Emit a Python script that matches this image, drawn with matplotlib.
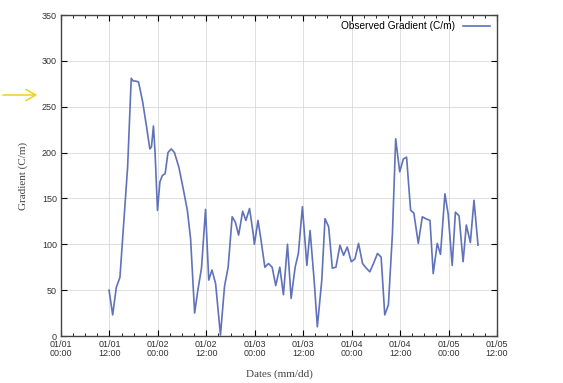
import matplotlib
matplotlib.use("Agg")
import matplotlib.pyplot as plt
from matplotlib.ticker import MultipleLocator

# hours since 01/01 00:00 and observed gradient (C/m)
hours = [
    11.9, 12.8, 13.7, 14.6, 16.5, 17.4, 17.9, 18.5, 19.2, 20.2,
    21.2, 22.0, 22.4, 22.9, 23.3, 23.9, 24.5, 25.1, 25.8, 26.5,
    27.3, 28.1, 29.2, 30.3, 31.3, 32.1, 33.1, 33.9, 34.8, 35.8,
    36.6, 37.4, 38.3, 39.5, 40.5, 41.4, 42.4, 43.2, 44.0, 45.0,
    45.8, 46.7, 47.6, 47.9, 48.8, 49.5, 50.5, 51.4, 52.3, 53.2,
    54.2, 55.1, 56.1, 57.0, 58.0, 58.8, 59.8, 60.9, 61.7, 62.7,
    63.5, 64.6, 65.4, 66.3, 67.2, 68.1, 69.1, 70.0, 70.9, 71.9,
    72.8, 73.7, 74.7, 75.6, 76.5, 77.4, 78.4, 79.3, 80.2, 81.1,
    82.1, 82.9, 83.9, 84.8, 85.6, 86.6, 87.4, 88.5, 89.5, 90.3,
    91.4, 92.2, 93.2, 94.0, 95.1, 95.9, 96.9, 97.7, 98.6, 99.6,
    100.4, 101.4, 102.3, 103.3,
]
gradient = [
    50, 23, 53, 64, 184, 281, 278, 278, 277, 256,
    228, 204, 206, 229, 200, 137, 168, 175, 177, 200,
    204, 200, 184, 160, 137, 106, 25, 50, 74, 138,
    61, 72, 57, 1, 54, 75, 130, 124, 110, 136,
    126, 139, 112, 100, 126, 106, 75, 79, 75, 55,
    75, 45, 100, 41, 75, 90, 141, 77, 115, 61,
    10, 61, 128, 119, 74, 75, 99, 88, 97, 81,
    84, 101, 79, 74, 70, 79, 90, 86, 23, 34,
    112, 215, 179, 193, 195, 137, 134, 101, 130, 128,
    126, 68, 101, 89, 155, 133, 77, 135, 131, 81,
    121, 102, 148, 99,
]

tick_hours = [0, 12, 24, 36, 48, 60, 72, 84, 96, 108]
tick_labels = [
    "01/01\n00:00", "01/01\n12:00", "01/02\n00:00", "01/02\n12:00",
    "01/03\n00:00", "01/03\n12:00", "01/04\n00:00", "01/04\n12:00",
    "01/05\n00:00", "01/05\n12:00",
]

fig = plt.figure(figsize=(5.63, 3.83), dpi=100)
ax = fig.add_axes([61 / 563, 47 / 383, 436 / 563, 321 / 383])

ax.plot(hours, gradient, color="#5f72ba", linewidth=1.2,
        label="Observed Gradient (C/m)")

ax.set_xlim(0, 108)
ax.set_ylim(0, 350)
ax.set_xticks(tick_hours)
ax.set_xticklabels(tick_labels, fontsize=6.5, family="Liberation Sans",
                   linespacing=0.95, color="#333333")
ax.xaxis.set_minor_locator(MultipleLocator(3))
ax.yaxis.set_major_locator(MultipleLocator(50))
for lbl in ax.get_yticklabels():
    lbl.set_fontsize(6.5)
    lbl.set_family("Liberation Sans")
    lbl.set_color("#333333")

ax.tick_params(which="both", direction="in", top=True, right=True)
ax.tick_params(which="major", length=4, width=0.8, pad=3)
ax.tick_params(which="minor", length=2, width=0.6)
ax.grid(True, which="major", color="#d9d9d9", linewidth=0.6)
for s in ax.spines.values():
    s.set_color("#444444")
    s.set_linewidth(1.0)

ax.set_xlabel("Dates (mm/dd)", fontsize=8, family="Liberation Serif",
              color="#444444", labelpad=8)
ax.set_ylabel("Gradient (C/m)", fontsize=8, family="Liberation Serif",
              color="#444444", labelpad=10)

ax.legend(loc="upper right", frameon=False, markerfirst=False,
          prop={"family": "Liberation Sans", "size": 7.3},
          handlelength=2.7, borderaxespad=0.2, bbox_to_anchor=(0.999, 1.0))

# yellow pointer arrow on the left
fig.patches.append(matplotlib.patches.FancyArrowPatch(
    (0 / 563, 1 - 95 / 383), (40 / 563, 1 - 95 / 383),
    transform=fig.transFigure, arrowstyle="->,head_length=7,head_width=4",
    color="#f2cf1d", linewidth=1.1))

fig.savefig("out.png", dpi=100)
